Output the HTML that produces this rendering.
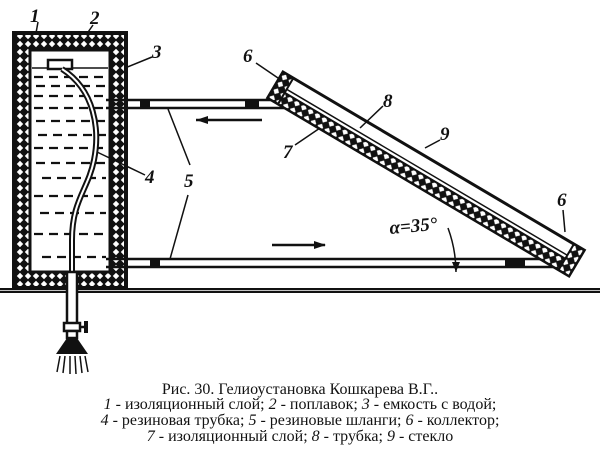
<!DOCTYPE html>
<html><head><meta charset="utf-8"><style>
html,body{margin:0;padding:0;background:#fff;width:600px;height:460px;overflow:hidden}
svg{display:block}
.n{font-family:"Liberation Serif",serif;font-style:italic;font-weight:bold;font-size:19px;fill:#111}
.c{font-family:"Liberation Serif",serif;font-size:16px;fill:#111}
</style></head><body>
<svg width="600" height="460" viewBox="0 0 600 460" xmlns="http://www.w3.org/2000/svg">
<defs>
<pattern id="h" width="8" height="8" patternUnits="userSpaceOnUse">
<rect width="8" height="8" fill="#111"/>
<path d="M4 0.8 L7.2 4 L4 7.2 L0.8 4Z" fill="#fff"/>
</pattern>
</defs>
<rect x="14" y="33" width="112" height="255" fill="url(#h)" stroke="#111" stroke-width="4"/>
<rect x="30" y="50" width="80" height="222" fill="#fff" stroke="#111" stroke-width="3"/>
<line x1="32" y1="68" x2="108" y2="68" stroke="#111" stroke-width="1.5"/>
<g stroke="#111" stroke-width="2.2" stroke-dasharray="9 6">
<line x1="34" y1="77" x2="106" y2="77"/><line x1="36" y1="86" x2="106" y2="86"/>
<line x1="34" y1="96" x2="106" y2="96"/><line x1="34" y1="108" x2="106" y2="108"/>
<line x1="36" y1="121" x2="106" y2="121"/><line x1="38" y1="135" x2="106" y2="135"/>
<line x1="34" y1="148" x2="106" y2="148"/><line x1="36" y1="163" x2="106" y2="163"/>
<line x1="42" y1="178" x2="106" y2="178"/><line x1="34" y1="196" x2="106" y2="196"/>
<line x1="40" y1="213" x2="106" y2="213"/><line x1="34" y1="234" x2="106" y2="234"/>
<line x1="42" y1="257" x2="106" y2="257"/>
</g>
<rect x="48" y="60" width="24" height="9" fill="#fff" stroke="#111" stroke-width="2.5"/>
<path d="M62 69 C95 90 100 130 94 160 C88 190 72 200 72 240 L72 272" fill="none" stroke="#111" stroke-width="6"/>
<path d="M62 69 C95 90 100 130 94 160 C88 190 72 200 72 240 L72 272" fill="none" stroke="#fff" stroke-width="2"/>
<rect x="0" y="288" width="600" height="5" fill="#111"/>
<line x1="0" y1="290.5" x2="600" y2="290.5" stroke="#fff" stroke-width="0.8"/>
<rect x="67" y="272" width="10" height="52" fill="#fff" stroke="#111" stroke-width="2.5"/>
<rect x="64" y="323" width="16" height="8" fill="#fff" stroke="#111" stroke-width="2.5"/>
<line x1="80" y1="327" x2="85" y2="327" stroke="#111" stroke-width="2.5"/>
<rect x="84" y="321" width="4" height="12" fill="#111"/>
<rect x="67" y="331" width="10" height="7" fill="#fff" stroke="#111" stroke-width="2.5"/>
<path d="M67 338 L77 338 L88 354 L56 354Z" fill="#111"/>
<g stroke="#111" stroke-width="1.5"><line x1="60" y1="356" x2="57" y2="372"/><line x1="65" y1="356" x2="63" y2="373"/><line x1="70" y1="356" x2="70" y2="374"/><line x1="75" y1="356" x2="76" y2="374"/><line x1="80" y1="356" x2="82" y2="373"/><line x1="85" y1="356" x2="88" y2="372"/></g>
<g stroke="#111" stroke-width="2.5">
<line x1="106" y1="100" x2="285" y2="100"/><line x1="106" y1="108" x2="290" y2="108"/>
<line x1="106" y1="259" x2="555" y2="259"/><line x1="106" y1="267" x2="565" y2="267"/>
</g>
<rect x="140" y="100" width="10" height="8" fill="#111"/><rect x="245" y="100" width="14" height="8" fill="#111"/>
<rect x="150" y="259" width="10" height="8" fill="#111"/><rect x="505" y="259" width="20" height="8" fill="#111"/>
<line x1="196" y1="120" x2="262" y2="120" stroke="#111" stroke-width="2.5"/><path d="M208 116 L196 120 L208 124Z" fill="#111"/>
<line x1="272" y1="245" x2="325" y2="245" stroke="#111" stroke-width="2.5"/><path d="M314 241 L326 245 L314 249Z" fill="#111"/>
<g transform="translate(283,72) rotate(30.6)">
<rect x="0" y="0" width="350" height="30" fill="#fff" stroke="#111" stroke-width="3"/>
<rect x="12" y="17" width="326" height="13" fill="url(#h)" stroke="#111" stroke-width="2"/>
<line x1="12" y1="13" x2="338" y2="13" stroke="#111" stroke-width="1.5"/>
<rect x="0" y="0" width="12" height="30" fill="url(#h)" stroke="#111" stroke-width="2"/>
<rect x="338" y="0" width="12" height="30" fill="url(#h)" stroke="#111" stroke-width="2"/>
</g>
<path d="M456 272 A 130 130 0 0 0 448 228" fill="none" stroke="#111" stroke-width="1.5"/>
<path d="M452 262 L456 272 L460 262Z" fill="#111"/>
<g stroke="#111" stroke-width="1.5" fill="none">
<line x1="38" y1="22" x2="36" y2="33"/><line x1="93" y1="25" x2="86" y2="35"/>
<line x1="152" y1="57" x2="125" y2="68"/><line x1="145" y1="175" x2="97" y2="152"/>
<line x1="190" y1="165" x2="168" y2="109"/><line x1="188" y1="195" x2="170" y2="259"/>
<line x1="256" y1="63" x2="278" y2="78"/><line x1="383" y1="106" x2="360" y2="128"/>
<line x1="295" y1="145" x2="320" y2="128"/><line x1="440" y1="140" x2="425" y2="148"/>
<line x1="563" y1="210" x2="565" y2="232"/>
</g>
<text class="n" x="30" y="22">1</text><text class="n" x="90" y="24">2</text>
<text class="n" x="152" y="58">3</text><text class="n" x="145" y="183">4</text>
<text class="n" x="184" y="187">5</text><text class="n" x="243" y="62">6</text>
<text class="n" x="383" y="107">8</text><text class="n" x="283" y="158">7</text>
<text class="n" x="440" y="140">9</text><text class="n" x="557" y="206">6</text>
<text class="n" x="390" y="234" transform="rotate(-5 390 234)">α=35°</text>
<text class="c" x="300" y="394" text-anchor="middle">Рис. 30. Гелиоустановка Кошкарева В.Г..</text>
<text class="c" x="300" y="409" text-anchor="middle"><tspan font-style="italic">1</tspan> - изоляционный слой; <tspan font-style="italic">2</tspan> - поплавок; <tspan font-style="italic">3</tspan> - емкость с водой;</text>
<text class="c" x="300" y="425" text-anchor="middle"><tspan font-style="italic">4</tspan> - резиновая трубка; <tspan font-style="italic">5</tspan> - резиновые шланги; <tspan font-style="italic">6</tspan> - коллектор;</text>
<text class="c" x="300" y="441" text-anchor="middle"><tspan font-style="italic">7</tspan> - изоляционный слой; <tspan font-style="italic">8</tspan> - трубка; <tspan font-style="italic">9</tspan> - стекло</text>
</svg>
</body></html>
